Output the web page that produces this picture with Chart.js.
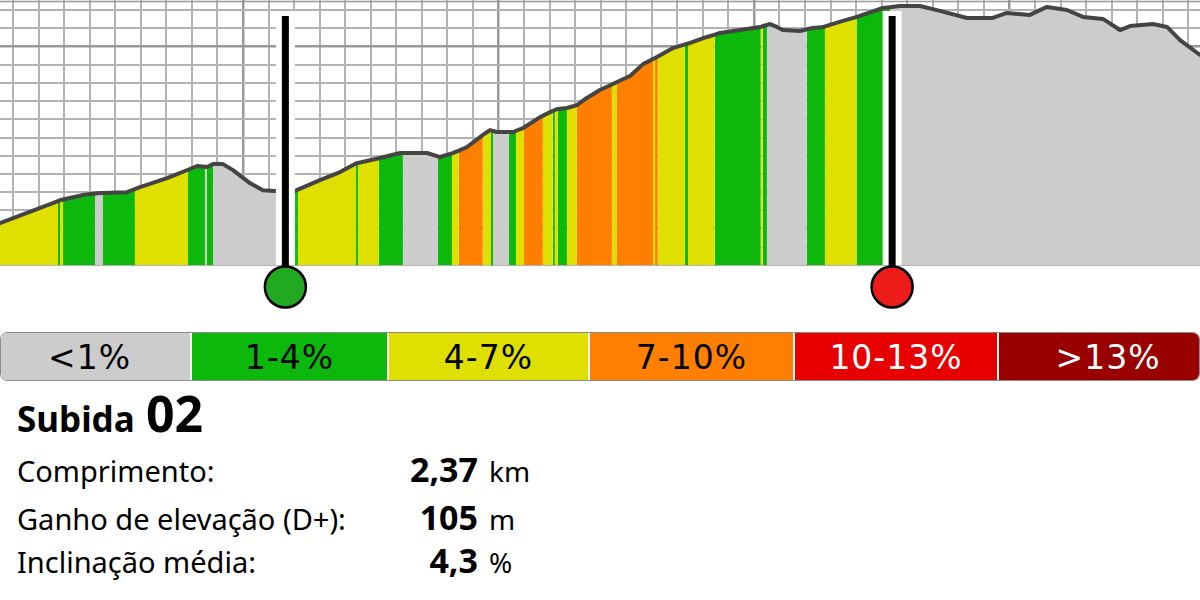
<!DOCTYPE html>
<html lang="pt">
<head>
<meta charset="utf-8">
<title>Subida 02</title>
<script src="https://cdn.jsdelivr.net/npm/chart.js@4.4.1/dist/chart.umd.min.js"></script>
<style>
  html, body { margin: 0; padding: 0; background: #fff; }
  #page { position: relative; width: 1200px; height: 600px; overflow: hidden; font-family: "Noto Sans", sans-serif; color: #000; }
  #profile { position: absolute; left: 0; top: 0; }
  #legend { position: absolute; left: 0; top: 332px; width: 1200px; height: 49px; box-sizing: border-box;
            border: 1.5px solid #8c8c8c; border-radius: 7px; overflow: hidden; display: flex; }
  #legend div { flex: none; display: flex; align-items: center; justify-content: center; font-family: "DejaVu Sans", sans-serif;
                font-size: 33px; line-height: 1; letter-spacing: 1px; padding-top: 2px; box-sizing: border-box; }
  #legend div + div { border-left: 2.5px solid #fff; }
  .txt { position: absolute; white-space: nowrap; line-height: 1; }
</style>
</head>
<body>
<div id="page">
  <canvas id="profile" width="1200" height="320"></canvas>
  <div id="legend"></div>
</div>
<script>
"use strict";

const distanceKm = [
  1.049, 1.276, 1.284, 1.296, 1.374, 1.421, 1.440, 1.452, 1.546, 1.577,
  1.597, 1.703, 1.785, 1.820, 1.851, 1.859, 1.883, 1.922, 1.961, 2.027,
  2.078, 2.125, 2.164, 2.204, 2.215, 2.301, 2.380, 2.442, 2.450, 2.532,
  2.615, 2.626, 2.720, 2.763, 2.771, 2.818, 2.845, 2.877, 2.928, 2.939,
  2.967, 2.971, 2.979, 2.994, 3.041, 3.057, 3.069, 3.096, 3.100, 3.163,
  3.174, 3.213, 3.221, 3.229, 3.233, 3.268, 3.307, 3.346, 3.397, 3.444,
  3.464, 3.515, 3.566, 3.605, 3.613, 3.620, 3.624, 3.683, 3.730, 3.742,
  3.750, 3.816, 3.847, 3.867, 3.945, 4.024, 4.027, 4.035, 4.051, 4.063,
  4.090, 4.113, 4.180, 4.207, 4.231, 4.270, 4.278, 4.348, 4.403, 4.505,
  4.532, 4.571, 4.650, 4.728, 4.834, 4.932, 4.990, 5.080, 5.147, 5.225,
  5.288, 5.366, 5.433, 5.472, 5.562, 5.617, 5.668, 5.746
];
const elevationM = [
  203.0, 215.1, 215.6, 216.0, 218.4, 219.2, 219.5, 219.6, 220.0, 221.7,
  222.8, 227.7, 232.3, 234.3, 233.9, 233.8, 235.4, 235.4, 232.1, 225.0,
  221.1, 220.6, 220.3, 220.6, 221.4, 226.6, 231.0, 235.7, 236.0, 238.6,
  241.5, 241.5, 241.5, 239.6, 239.3, 241.3, 242.8, 244.8, 250.2, 251.4,
  254.1, 253.9, 253.6, 253.0, 253.0, 253.0, 253.7, 255.2, 255.5, 261.2,
  262.0, 264.6, 265.1, 265.6, 265.7, 266.2, 267.8, 271.7, 276.1, 279.1,
  280.5, 283.8, 290.3, 293.1, 293.6, 294.2, 294.5, 299.1, 301.1, 301.6,
  301.9, 305.2, 306.5, 307.4, 309.0, 310.7, 310.8, 311.2, 311.8, 312.3,
  310.7, 309.0, 308.5, 309.4, 310.1, 310.7, 311.0, 314.0, 316.2, 321.1,
  321.5, 322.2, 322.2, 319.5, 315.6, 315.6, 318.4, 317.3, 321.7, 320.0,
  316.2, 315.1, 309.0, 311.2, 312.3, 310.7, 303.5, 295.3
];
// classe de inclinação de cada troço (índice em slopeLabels)
const slopeClass = [
  2, 1, 2, 1, 1, 0, 0, 1, 1, 2,
  2, 2, 1, 1, 0, 1, 0, 0, 0, 0,
  0, 0, 0, 1, 2, 2, 2, 1, 2, 1,
  1, 0, 0, 1, 1, 2, 3, 3, 3, 2,
  2, 1, 0, 0, 1, 1, 2, 2, 3, 3,
  2, 1, 2, 2, 1, 2, 3, 3, 3, 2,
  3, 3, 3, 2, 3, 3, 2, 2, 1, 2,
  2, 2, 1, 1, 1, 1, 2, 1, 0, 0,
  0, 0, 0, 1, 1, 1, 2, 2, 1, 1,
  0, 0, 0, 0, 0, 0, 0, 0, 0, 0,
  0, 0, 0, 0, 0, 0, 0, 0
];
const slopeLabels = ['<1%', '1-4%', '4-7%', '7-10%', '10-13%', '>13%'];
const climbStartKm = 2.166;
const climbEndKm = 4.541;

const climbTitle = 'Subida';
const climbNumber = '02';
const statLabels = ['Comprimento:', 'Ganho de elevação (D+):', 'Inclinação média:'];
const statValues = ['2,37', '105', '4,3'];
const statUnits = ['km', 'm', '%'];

// estilos
const slopeColors = ['#cccccc', '#0cb80c', '#e0e000', '#ff8000', '#e60000', '#990000'];
const legendTextColors = ['#000', '#000', '#000', '#000', '#fff', '#fff'];
const legendWidths = [189, 197, 201, 205, 204, 204];
const rowBaselines = [482, 530, 573];

// legenda
const legend = document.getElementById('legend');
slopeLabels.forEach((label, i) => {
    const cell = document.createElement('div');
    cell.textContent = label;
    cell.style.width = legendWidths[i] + 'px';
    cell.style.background = slopeColors[i];
    cell.style.color = legendTextColors[i];
    if (i === 0) cell.style.paddingRight = '12px';
    if (i === slopeLabels.length - 1) cell.style.paddingLeft = '16px';
    legend.appendChild(cell);
});

// textos
const page = document.getElementById('page');
const addText = (text, left, baseline, size, bold, alignRight) => {
    const el = document.createElement('div');
    el.className = 'txt';
    el.textContent = text;
    el.style.fontSize = size + 'px';
    el.style.fontWeight = bold ? '700' : '400';
    el.style.top = (baseline - 0.888 * size) + 'px';
    if (alignRight) {
        el.style.right = (1200 - left) + 'px';
    } else {
        el.style.left = left + 'px';
    }
    page.appendChild(el);
};
addText(climbTitle, 17, 432, 35, true);
addText(climbNumber, 146, 432, 50, true);
statLabels.forEach((label, i) => {
    addText(label, 17, rowBaselines[i], 29, false);
    addText(statValues[i], 478, rowBaselines[i], 34, true, true);
    addText(statUnits[i], 489, rowBaselines[i], 28, false);
});

// perfil
const points = distanceKm.map((d, i) => ({ x: d, y: elevationM[i] }));
const isMajor = (v, step) => Math.abs(v / step - Math.round(v / step)) < 1e-6;

const climbMarkers = {
    id: 'climbMarkers',
    beforeDatasetsDraw(chart) {
        const { ctx, chartArea } = chart;
        ctx.save();
        ctx.strokeStyle = '#999';
        ctx.lineWidth = 1.5;
        ctx.beginPath();
        ctx.moveTo(chartArea.left, 1.5);
        ctx.lineTo(chartArea.right, 1.5);
        ctx.stroke();
        ctx.restore();
    },
    afterDatasetsDraw(chart) {
        const { ctx, chartArea, scales: { x } } = chart;
        [[climbStartKm, '#22a922'], [climbEndKm, '#ee1b1b']].forEach(([km, color]) => {
            const px = x.getPixelForValue(km);
            ctx.save();
            ctx.fillStyle = '#fff';
            ctx.fillRect(px - 9.5, 11, 19, chartArea.bottom - 11);
            ctx.fillStyle = '#000';
            ctx.fillRect(px - 3.5, 16, 7, chartArea.bottom - 10);
            ctx.beginPath();
            ctx.arc(px, chartArea.bottom + 22, 20.5, 0, Math.PI * 2);
            ctx.fillStyle = color;
            ctx.fill();
            ctx.lineWidth = 2.5;
            ctx.strokeStyle = '#000';
            ctx.stroke();
            ctx.restore();
        });
    }
};

new Chart(document.getElementById('profile'), {
    type: 'line',
    data: {
        datasets: [{
            data: points,
            borderColor: '#444',
            borderWidth: 4,
            borderJoinStyle: 'round',
            borderCapStyle: 'round',
            pointRadius: 0,
            fill: false
        }, {
            data: points,
            borderWidth: 0,
            pointRadius: 0,
            fill: 'start',
            backgroundColor: slopeColors[0],
            segment: {
                backgroundColor: c => slopeColors[slopeClass[c.p0DataIndex]]
            }
        }]
    },
    options: {
        responsive: false,
        animation: false,
        layout: { padding: { left: 0, right: 0, top: 0, bottom: 55 } },
        plugins: { legend: { display: false }, tooltip: { enabled: false } },
        scales: {
            x: {
                type: 'linear',
                min: 1.049,
                max: 5.746,
                ticks: { display: false, stepSize: 0.1, includeBounds: false },
                border: { display: false },
                grid: {
                    drawTicks: false,
                    color: c => isMajor(c.tick.value, 1) ? '#999999' : '#b3b3b3',
                    lineWidth: c => isMajor(c.tick.value, 1) ? 2.5 : 2
                }
            },
            y: {
                min: 180,
                max: 325.5,
                ticks: { display: false, stepSize: 10, includeBounds: false },
                border: { display: false },
                grid: {
                    drawTicks: false,
                    color: c => isMajor(c.tick.value, 100) ? '#999999' : '#b3b3b3',
                    lineWidth: c => isMajor(c.tick.value, 100) ? 2.5 : 2
                }
            }
        }
    },
    plugins: [climbMarkers]
});
</script>
</body>
</html>
